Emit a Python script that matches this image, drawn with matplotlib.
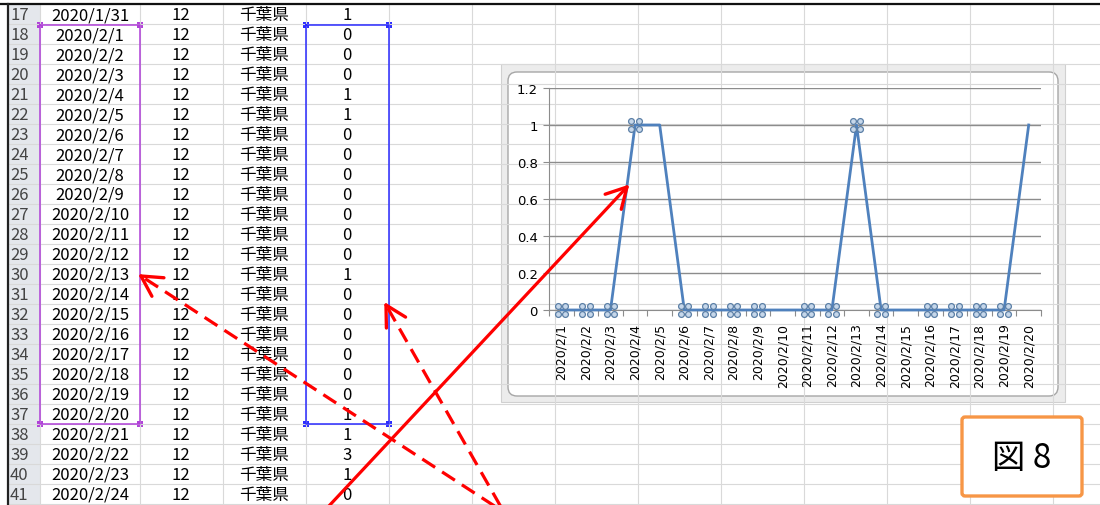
#!/usr/bin/env python3

import numpy as np
import matplotlib
matplotlib.use("Agg")
import matplotlib.pyplot as plt
from matplotlib.path import Path
from matplotlib.patches import Rectangle, FancyBboxPatch

plt.rcParams['font.family'] = ['Noto Sans CJK JP', 'DejaVu Sans']
plt.rcParams['lines.scale_dashes'] = False

# sheet rows 17..41
row_nums = list(range(17, 42))
dates = ["2020/1/31"] + ["2020/2/%d" % d for d in range(1, 25)]
pref_code = [12] * 25
pref_name = ["千葉県"] * 25
counts = [1, 0, 0, 0, 1, 1, 0, 0, 0, 0, 0, 0, 0, 1, 0, 0, 0, 0, 0, 0, 1, 1, 3, 1, 0]

# chart uses rows 18..37
chart_labels = dates[1:21]
chart_values = counts[1:21]
# points that show the selection handles
handle_idx = [0, 1, 2, 3, 5, 6, 7, 8, 10, 11, 12, 13, 15, 16, 17, 18]

W, H = 1100, 506
fig = plt.figure(figsize=(W / 100, H / 100), dpi=100)

# ---- spreadsheet layer (pixel coordinates) ----
bg = fig.add_axes([0, 0, 1, 1], zorder=0)
bg.set_xlim(0, W)
bg.set_ylim(H, 0)
bg.axis("off")

top = 5
row_h = 20
col_edges = [8, 40, 140, 223, 306, 389, 472, 555, 638, 721, 804, 887, 970, 1053, 1136]
grid_c = "#d9d9d9"
fs = 12

bg.add_patch(Rectangle((8, top), 32, H - top, facecolor="#e4e7ec", edgecolor="none"))
for k in range(len(row_nums) + 1):
    y = top + k * row_h
    bg.plot([8, W], [y, y], color=grid_c, lw=0.8)
for x in col_edges[1:]:
    bg.plot([x, x], [top, H], color=grid_c, lw=0.8)
bg.plot([0, W], [top, top], color="#111111", lw=1.6)
bg.plot([8, 8], [top, H], color="#222222", lw=1.6)

for k, r in enumerate(row_nums):
    yc = top + k * row_h + row_h / 2 + 0.5
    bg.text(10, yc, str(r), fontsize=fs, color="#444444", ha="left", va="center")
    bg.text(90, yc, dates[k], fontsize=fs, ha="center", va="center")
    bg.text(181, yc, str(pref_code[k]), fontsize=fs, ha="center", va="center")
    bg.text(264, yc, pref_name[k], fontsize=fs, ha="center", va="center")
    bg.text(347, yc, str(counts[k]), fontsize=fs, ha="center", va="center")

# selection ranges
sel_top = top + row_h + 1
sel_bot = top + 21 * row_h
for (x0, x1), c in [((40, 140), "#b040d8"), ((306, 389), "#2b2bff")]:
    bg.plot([x0, x1, x1, x0, x0], [sel_top, sel_top, sel_bot, sel_bot, sel_top], color=c, lw=1.1)
    for cx in (x0, x1):
        for cy in (sel_top, sel_bot):
            bg.add_patch(Rectangle((cx - 3, cy - 3), 6, 6, facecolor=c, edgecolor="none"))

# chart frame
bg.add_patch(Rectangle((501, 65), 564, 338, facecolor="#ececec", edgecolor="#d0d0d0", lw=0.8))
bg.add_patch(FancyBboxPatch((508, 73), 550, 324, boxstyle="round,pad=0,rounding_size=9",
                            facecolor="white", edgecolor="#a6a6a6", lw=1.0))

# ---- line chart ----
ax = fig.add_axes([549 / W, 1 - 311 / H, 492 / W, 222 / H], zorder=1)
ax.patch.set_alpha(0)
x = np.arange(len(chart_values))
ax.set_xlim(-0.5, len(chart_values) - 0.5)
ax.set_ylim(0, 1.2)
yt = np.arange(0, 1.21, 0.2)
ax.set_yticks(yt)
ax.set_yticklabels(["%g" % round(v, 1) for v in yt], family="DejaVu Sans")
ax.yaxis.grid(True, color="#8c8c8c", lw=1.0)
ax.set_axisbelow(True)
for s in ("top", "right"):
    ax.spines[s].set_visible(False)
for s in ("left", "bottom"):
    ax.spines[s].set_color("#8c8c8c")
ax.tick_params(axis="y", length=4, color="#8c8c8c", labelsize=9.5, pad=4)
ax.set_xticks(np.arange(-0.5, len(chart_values)), minor=False)
ax.set_xticklabels([])
ax.set_xticks(x, minor=True)
ax.set_xticklabels(chart_labels, minor=True, rotation=90, fontsize=9, family="DejaVu Sans")
ax.tick_params(axis="x", which="major", length=4, color="#8c8c8c")
ax.tick_params(axis="x", which="minor", length=0, pad=9)

ax.plot(x, chart_values, color="#4f81bd", lw=2, zorder=3, clip_on=False)

# selection handle: four small rings in a 2x2 cluster
for dx in (-1, 1):
    for dy in (-1, 1):
        ax.plot(x[handle_idx], np.array(chart_values)[handle_idx], linestyle="none",
                marker="o", markersize=4.2, markerfacecolor="#c6d7ea",
                markeredgecolor="#5b7fa6", markeredgewidth=0.9, zorder=4, clip_on=False,
                transform=ax.transData + matplotlib.transforms.ScaledTranslation(
                    dx * 2.6 / 72, dy * 2.6 / 72, fig.dpi_scale_trans))

# ---- annotations on top ----
ov = fig.add_axes([0, 0, 1, 1], zorder=2)
ov.set_xlim(0, W)
ov.set_ylim(H, 0)
ov.axis("off")


def arrow(p0, p1, dashed=False):
    ls = (0, (11, 6)) if dashed else "-"
    ov.plot([p0[0], p1[0]], [p0[1], p1[1]], color="red", lw=2.3, linestyle=ls,
            solid_capstyle="butt", dash_capstyle="butt")
    ang = np.arctan2(p0[1] - p1[1], p0[0] - p1[0])
    for da in (0.5, -0.5):
        ov.plot([p1[0], p1[0] + 23 * np.cos(ang + da)], [p1[1], p1[1] + 23 * np.sin(ang + da)],
                color="red", lw=2.4, solid_capstyle="round")


arrow((328, 508), (627, 188))
arrow((496, 508), (141, 277), dashed=True)
arrow((501, 508), (386, 306), dashed=True)

ov.add_patch(FancyBboxPatch((962, 418), 120, 79, boxstyle="round,pad=0,rounding_size=3",
                            facecolor="white", edgecolor="#f79646", lw=2.4))
ov.text(1022, 459, "図 8", fontsize=24, ha="center", va="center")

fig.savefig("out.png", dpi=100)
